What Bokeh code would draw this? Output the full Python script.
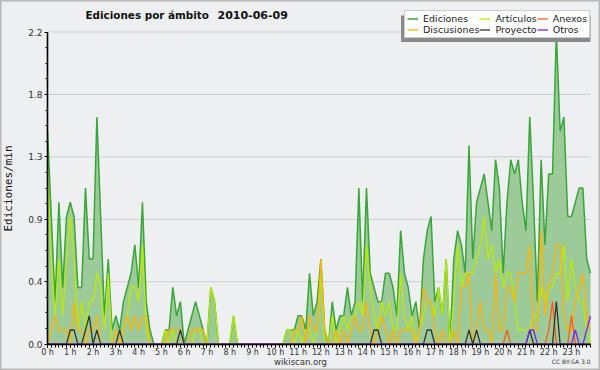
from bokeh.plotting import figure
from bokeh.models import Range1d, FixedTicker, Legend, LegendItem, Label
from bokeh.embed import file_html
from bokeh.resources import INLINE

# ---- data (edits per minute, one value per 10-minute slot, 2010-06-09) ----
HOURS = list(range(24))
HOUR_LABELS = ["0 h", "1 h", "2 h", "3 h", "4 h", "5 h", "6 h", "7 h", "8 h", "9 h",
               "10 h", "11 h", "12 h", "13 h", "14 h", "15 h", "16 h", "17 h", "18 h",
               "19 h", "20 h", "21 h", "22 h", "23 h"]
Y_TICKS = [0.0, 0.44, 0.88, 1.32, 1.76, 2.2]
Y_LABELS = ["0.0", "0.4", "0.9", "1.3", "1.8", "2.2"]
TIMES = [i / 6 for i in range(144)]  # 10-minute slots, in hours

EDICIONES = [
    1.5, 0.9, 0.3, 1.0, 0.4, 0.9, 1.0, 0.9, 0.4, 0.4, 1.1, 0.6,
    0.6, 1.6, 0.9, 0.2, 0.6, 0.1, 0.2, 0.1, 0.3, 0.4, 0.5, 0.7,
    0.4, 1.0, 0.3, 0.1, 0.0, 0.0, 0.0, 0.1, 0.1, 0.4, 0.2, 0.3,
    0.0, 0.1, 0.2, 0.3, 0.2, 0.1, 0.0, 0.4, 0.3, 0.0, 0.0, 0.0,
    0.0, 0.2, 0.0, 0.0, 0.0, 0.0, 0.0, 0.0, 0.0, 0.0, 0.0, 0.0,
    0.0, 0.0, 0.0, 0.1, 0.1, 0.1, 0.2, 0.2, 0.1, 0.5, 0.2, 0.3,
    0.6, 0.1, 0.0, 0.3, 0.1, 0.2, 0.2, 0.4, 0.2, 0.3, 1.1, 0.3,
    1.1, 0.5, 0.4, 0.3, 0.3, 0.5, 0.5, 0.4, 0.2, 0.8, 0.5, 0.4,
    0.2, 0.3, 0.1, 0.6, 0.8, 0.9, 0.3, 0.4, 0.2, 0.6, 0.0, 0.6,
    0.8, 0.7, 0.5, 1.4, 0.6, 1.0, 1.1, 1.2, 1.0, 0.8, 1.3, 1.1,
    0.5, 1.0, 1.3, 1.2, 1.3, 1.0, 0.8, 1.6, 1.0, 0.3, 1.3, 0.7,
    1.2, 1.2, 2.2, 1.5, 1.6, 0.9, 0.9, 1.0, 1.1, 1.1, 0.6, 0.5,
]
ARTICULOS = [
    1.2, 0.6, 0.2, 0.6, 0.2, 0.6, 0.9, 0.6, 0.1, 0.3, 0.1, 0.3,
    0.3, 0.5, 0.4, 0.1, 0.5, 0.0, 0.0, 0.0, 0.1, 0.2, 0.4, 0.4,
    0.3, 0.7, 0.1, 0.0, 0.0, 0.0, 0.0, 0.1, 0.0, 0.1, 0.0, 0.0,
    0.0, 0.0, 0.0, 0.1, 0.1, 0.0, 0.0, 0.4, 0.3, 0.0, 0.0, 0.0,
    0.0, 0.2, 0.0, 0.0, 0.0, 0.0, 0.0, 0.0, 0.0, 0.0, 0.0, 0.0,
    0.0, 0.0, 0.0, 0.1, 0.1, 0.0, 0.1, 0.0, 0.1, 0.1, 0.0, 0.1,
    0.5, 0.0, 0.0, 0.2, 0.0, 0.1, 0.2, 0.1, 0.2, 0.2, 0.3, 0.2,
    0.7, 0.4, 0.2, 0.1, 0.3, 0.2, 0.3, 0.1, 0.1, 0.5, 0.2, 0.1,
    0.2, 0.0, 0.1, 0.2, 0.3, 0.3, 0.2, 0.4, 0.2, 0.6, 0.0, 0.3,
    0.7, 0.4, 0.5, 0.5, 0.5, 0.6, 0.7, 0.9, 0.6, 0.7, 0.5, 0.6,
    0.4, 0.5, 0.5, 0.3, 0.1, 0.1, 0.1, 0.1, 0.2, 0.2, 0.4, 0.3,
    0.4, 0.4, 0.5, 0.5, 0.7, 0.3, 0.6, 0.4, 0.3, 0.3, 0.1, 0.0,
]
DISCUSIONES = [
    0.0, 0.1, 0.2, 0.1, 0.1, 0.1, 0.0, 0.3, 0.1, 0.1, 0.0, 0.1,
    0.1, 0.2, 0.0, 0.0, 0.0, 0.0, 0.1, 0.0, 0.1, 0.2, 0.1, 0.2,
    0.1, 0.2, 0.2, 0.0, 0.0, 0.0, 0.0, 0.0, 0.1, 0.1, 0.1, 0.1,
    0.0, 0.0, 0.1, 0.1, 0.1, 0.1, 0.0, 0.0, 0.0, 0.0, 0.0, 0.0,
    0.0, 0.0, 0.0, 0.0, 0.0, 0.0, 0.0, 0.0, 0.0, 0.0, 0.0, 0.0,
    0.0, 0.0, 0.0, 0.0, 0.0, 0.1, 0.1, 0.2, 0.0, 0.2, 0.1, 0.1,
    0.6, 0.1, 0.0, 0.0, 0.1, 0.0, 0.1, 0.0, 0.1, 0.2, 0.1, 0.1,
    0.3, 0.1, 0.0, 0.1, 0.2, 0.1, 0.0, 0.1, 0.0, 0.1, 0.1, 0.1,
    0.1, 0.0, 0.1, 0.4, 0.3, 0.3, 0.1, 0.0, 0.1, 0.0, 0.0, 0.1,
    0.0, 0.4, 0.4, 0.5, 0.0, 0.1, 0.3, 0.1, 0.1, 0.0, 0.5, 0.1,
    0.1, 0.4, 0.4, 0.3, 0.5, 0.5, 0.5, 0.7, 0.1, 0.1, 0.8, 0.2,
    0.4, 0.5, 0.7, 0.7, 0.2, 0.1, 0.1, 0.3, 0.4, 0.5, 0.2, 0.1,
]
PROYECTO = [
    0.0, 0.0, 0.0, 0.0, 0.0, 0.0, 0.1, 0.1, 0.0, 0.0, 0.1, 0.2,
    0.0, 0.1, 0.0, 0.0, 0.0, 0.0, 0.0, 0.1, 0.0, 0.0, 0.0, 0.0,
    0.0, 0.0, 0.0, 0.0, 0.0, 0.0, 0.0, 0.0, 0.0, 0.0, 0.0, 0.1,
    0.0, 0.0, 0.0, 0.0, 0.0, 0.0, 0.0, 0.0, 0.0, 0.0, 0.0, 0.0,
    0.0, 0.0, 0.0, 0.0, 0.0, 0.0, 0.0, 0.0, 0.0, 0.0, 0.0, 0.0,
    0.0, 0.0, 0.0, 0.0, 0.0, 0.0, 0.0, 0.0, 0.0, 0.0, 0.0, 0.0,
    0.0, 0.0, 0.0, 0.0, 0.0, 0.0, 0.0, 0.0, 0.0, 0.0, 0.0, 0.0,
    0.0, 0.0, 0.1, 0.1, 0.0, 0.0, 0.0, 0.0, 0.0, 0.0, 0.0, 0.0,
    0.0, 0.0, 0.0, 0.0, 0.1, 0.1, 0.0, 0.0, 0.0, 0.0, 0.0, 0.0,
    0.0, 0.0, 0.0, 0.1, 0.0, 0.1, 0.0, 0.0, 0.0, 0.0, 0.0, 0.0,
    0.0, 0.0, 0.0, 0.0, 0.0, 0.0, 0.0, 0.1, 0.0, 0.0, 0.0, 0.0,
    0.0, 0.0, 0.3, 0.0, 0.0, 0.0, 0.0, 0.0, 0.0, 0.0, 0.0, 0.0,
]
ANEXOS = [
    0.0, 0.0, 0.0, 0.0, 0.0, 0.0, 0.0, 0.0, 0.0, 0.0, 0.0, 0.0,
    0.0, 0.0, 0.0, 0.0, 0.0, 0.0, 0.0, 0.0, 0.0, 0.0, 0.0, 0.0,
    0.0, 0.0, 0.0, 0.0, 0.0, 0.0, 0.0, 0.0, 0.0, 0.0, 0.0, 0.0,
    0.0, 0.0, 0.0, 0.0, 0.0, 0.0, 0.0, 0.0, 0.0, 0.0, 0.0, 0.0,
    0.0, 0.0, 0.0, 0.0, 0.0, 0.0, 0.0, 0.0, 0.0, 0.0, 0.0, 0.0,
    0.0, 0.0, 0.0, 0.0, 0.0, 0.0, 0.0, 0.0, 0.0, 0.0, 0.0, 0.0,
    0.0, 0.0, 0.0, 0.0, 0.0, 0.0, 0.0, 0.0, 0.0, 0.0, 0.0, 0.0,
    0.0, 0.0, 0.0, 0.0, 0.0, 0.0, 0.0, 0.0, 0.0, 0.0, 0.0, 0.0,
    0.0, 0.0, 0.0, 0.0, 0.0, 0.0, 0.0, 0.0, 0.0, 0.0, 0.0, 0.0,
    0.0, 0.0, 0.0, 0.0, 0.0, 0.0, 0.0, 0.0, 0.0, 0.0, 0.0, 0.0,
    0.0, 0.1, 0.0, 0.0, 0.0, 0.0, 0.0, 0.0, 0.0, 0.0, 0.0, 0.0,
    0.1, 0.3, 0.0, 0.0, 0.0, 0.0, 0.2, 0.0, 0.0, 0.0, 0.0, 0.0,
]
OTROS = [
    0.0, 0.0, 0.0, 0.0, 0.0, 0.0, 0.0, 0.0, 0.0, 0.0, 0.0, 0.0,
    0.0, 0.0, 0.0, 0.0, 0.0, 0.0, 0.0, 0.0, 0.0, 0.0, 0.0, 0.0,
    0.0, 0.0, 0.0, 0.0, 0.0, 0.0, 0.0, 0.0, 0.0, 0.0, 0.0, 0.0,
    0.0, 0.0, 0.0, 0.0, 0.0, 0.0, 0.0, 0.0, 0.0, 0.0, 0.0, 0.0,
    0.0, 0.0, 0.0, 0.0, 0.0, 0.0, 0.0, 0.0, 0.0, 0.0, 0.0, 0.0,
    0.0, 0.0, 0.0, 0.0, 0.0, 0.0, 0.0, 0.0, 0.0, 0.0, 0.0, 0.0,
    0.0, 0.0, 0.0, 0.0, 0.0, 0.0, 0.0, 0.0, 0.0, 0.0, 0.0, 0.0,
    0.0, 0.0, 0.0, 0.0, 0.0, 0.0, 0.0, 0.0, 0.0, 0.0, 0.0, 0.0,
    0.0, 0.0, 0.0, 0.0, 0.0, 0.0, 0.0, 0.0, 0.0, 0.0, 0.0, 0.0,
    0.0, 0.0, 0.0, 0.0, 0.0, 0.0, 0.0, 0.0, 0.0, 0.0, 0.0, 0.0,
    0.0, 0.0, 0.0, 0.0, 0.0, 0.0, 0.0, 0.1, 0.1, 0.0, 0.0, 0.0,
    0.0, 0.0, 0.0, 0.0, 0.0, 0.0, 0.0, 0.1, 0.0, 0.0, 0.1, 0.2,
]

TITLE_MAIN = "Ediciones por ámbito"
TITLE_DATE = "2010-06-09"

# ---- layout geometry (pixels, from the top-left of the 600x370 picture) ----
W, H = 600, 370
X_ZERO = 47.0        # pixel column of 0 h
X_LAST = 590.0       # pixel column of the last 10-minute slot
Y_ZERO = 343.7       # pixel row of y = 0
Y_TOP = 31.5         # pixel row of y = 2.2
px_per_hour = (X_LAST - X_ZERO) / TIMES[-1]
px_per_unit = (Y_ZERO - Y_TOP) / Y_TICKS[-1]
x_lo = -X_ZERO / px_per_hour
x_hi = (W - X_ZERO) / px_per_hour
y_lo = -(H - Y_ZERO) / px_per_unit
y_hi = Y_TICKS[-1] + Y_TOP / px_per_unit


def dx(px):
    return (px - X_ZERO) / px_per_hour


def dy(py):
    return (Y_ZERO - py) / px_per_unit


p = figure(width=W, height=H,
           x_range=Range1d(x_lo, x_hi), y_range=Range1d(y_lo, y_hi),
           output_backend="svg", toolbar_location=None,
           min_border_left=0, min_border_right=0,
           min_border_top=0, min_border_bottom=0,
           background_fill_color="#eeeff0", border_fill_color="#efefef")
p.outline_line_color = "#b9b9b9"
p.outline_line_width = 2

FONT = "DejaVu Sans"

xa = p.xaxis[0]
xa.fixed_location = 0
xa.bounds = (0, TIMES[-1])
xa.ticker = FixedTicker(ticks=HOURS, minor_ticks=TIMES)
xa.major_label_overrides = {h: lab for h, lab in zip(HOURS, HOUR_LABELS)}
xa.major_label_text_font_size = "8px"
xa.minor_tick_out = 3
xa.major_tick_out = 3
xa.major_label_standoff = 1

ya = p.yaxis[0]
ya.fixed_location = 0
ya.bounds = (0, Y_TICKS[-1])
ya.ticker = FixedTicker(ticks=Y_TICKS, minor_ticks=[0.11 * k for k in range(21)])
ya.major_label_overrides = {t: lab for t, lab in zip(Y_TICKS, Y_LABELS)}
ya.major_label_text_font_size = "9px"
ya.minor_tick_out = 2
ya.major_tick_out = 3
ya.major_label_standoff = 2
ya.axis_label = "Ediciones/min"
ya.axis_label_text_font = "DejaVu Sans Mono"
ya.axis_label_text_font_size = "11px"
ya.axis_label_text_font_style = "normal"
ya.axis_label_text_color = "#111111"
ya.axis_label_standoff = 10

for ax in (xa, ya):
    ax.axis_line_color = "black"
    ax.axis_line_width = 1.6
    ax.major_tick_line_color = "black"
    ax.minor_tick_line_color = "black"
    ax.major_tick_in = 0
    ax.minor_tick_in = 0
    ax.major_label_text_font = FONT
    ax.major_label_text_color = "#333333"

p.xgrid.visible = False
p.ygrid.visible = False
# horizontal grid lines over the data span only
p.segment(x0=0, x1=TIMES[-1], y0=Y_TICKS[1:], y1=Y_TICKS[1:],
          line_color="#cdcdcd", line_width=1, level="underlay")

# ---- series ----
p.varea(x=TIMES, y1=0, y2=EDICIONES, fill_color="#9dca99")
r_ed = p.line(TIMES, EDICIONES, line_color="#39a639", line_width=1.5)
r_art = p.line(TIMES, ARTICULOS, line_color="#b8ec00", line_width=1.3)
r_dis = p.line(TIMES, DISCUSIONES, line_color="#ffb400", line_width=1.3)
r_anx = p.line(TIMES, ANEXOS, line_color="#ff5a14", line_width=1.3)
r_pro = p.line(TIMES, PROYECTO, line_color="#333333", line_width=1.3)
r_otr = p.line(TIMES, OTROS, line_color="#7f1fff", line_width=1.3)

# ---- legend drop shadow (drawn above the series, below the legend box) ----
p.quad(left=[dx(400.5)], right=[dx(590)], top=[dy(15)], bottom=[dy(41.5)],
       fill_color="#8a8a8a", line_color=None)

legend = Legend(items=[
    LegendItem(label="Ediciones", renderers=[r_ed]),
    LegendItem(label="Discusiones", renderers=[r_dis]),
    LegendItem(label="Artículos", renderers=[r_art]),
    LegendItem(label="Proyecto", renderers=[r_pro]),
    LegendItem(label="Anexos", renderers=[r_anx]),
    LegendItem(label="Otros", renderers=[r_otr]),
], location=(404, H - 38), orientation="vertical", nrows=2)
legend.label_text_font = FONT
legend.label_text_font_size = "9.5px"
legend.label_text_color = "#222222"
legend.label_height = 9
legend.glyph_height = 9
legend.glyph_width = 11
legend.label_standoff = 5
legend.spacing = 0
legend.padding = 2
legend.margin = 0
legend.border_line_color = "#999999"
legend.background_fill_color = "white"
legend.background_fill_alpha = 1
p.add_layout(legend)

# ---- texts (screen units from the bottom-left of the picture) ----
p.add_layout(Label(x=85, y=H - 14, x_units="screen", y_units="screen", text=TITLE_MAIN,
                   text_font=FONT, text_font_style="bold", text_font_size="10.4px",
                   text_baseline="middle", text_color="#111111"))
p.add_layout(Label(x=217, y=H - 14, x_units="screen", y_units="screen", text=TITLE_DATE,
                   text_font=FONT, text_font_style="bold", text_font_size="11px",
                   text_baseline="middle", text_color="#111111"))
p.add_layout(Label(x=300, y=H - 361, x_units="screen", y_units="screen",
                   text="wikiscan.org", text_font=FONT, text_font_size="8.5px",
                   text_align="center", text_baseline="middle", text_color="#333333"))
p.add_layout(Label(x=590, y=H - 361, x_units="screen", y_units="screen",
                   text="CC BY-SA 3.0", text_font=FONT, text_font_size="6px",
                   text_align="right", text_baseline="middle", text_color="#333333"))

open("out.html", "w").write(file_html(p, INLINE))
